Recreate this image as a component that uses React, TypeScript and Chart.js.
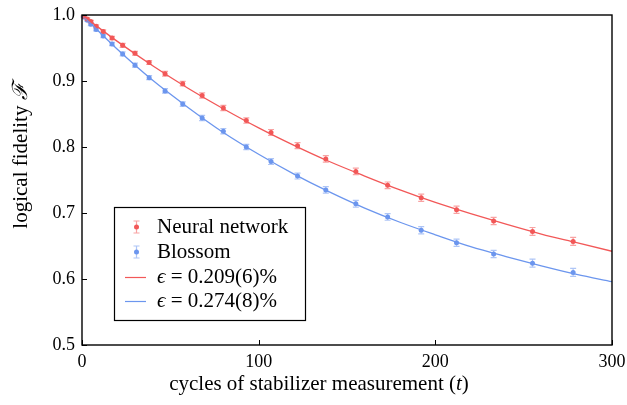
import React, { useEffect, useRef } from 'react';
import { Chart, registerables } from 'chart.js';

Chart.register(...registerables);

// ---- data ----
const cycles = [1, 3, 5, 8, 12, 17, 23, 30, 38, 47, 57, 68, 80, 93, 107, 122, 138, 155, 173, 192, 212, 233, 255, 278];
const neuralFidelity = [0.998, 0.994, 0.990, 0.983, 0.975, 0.965, 0.954, 0.942, 0.928, 0.911, 0.896, 0.878, 0.859, 0.840, 0.822, 0.802, 0.782, 0.763, 0.742, 0.723, 0.705, 0.688, 0.672, 0.657];
const neuralError = [0.001, 0.0015, 0.002, 0.002, 0.0025, 0.0025, 0.003, 0.003, 0.003, 0.0035, 0.0035, 0.004, 0.004, 0.004, 0.0045, 0.0045, 0.005, 0.005, 0.005, 0.0055, 0.0055, 0.0055, 0.006, 0.006];
const blossomFidelity = [0.997, 0.992, 0.986, 0.978, 0.968, 0.956, 0.941, 0.924, 0.905, 0.885, 0.865, 0.844, 0.824, 0.800, 0.778, 0.756, 0.735, 0.714, 0.694, 0.674, 0.655, 0.638, 0.624, 0.610];
const blossomError = [0.001, 0.0015, 0.002, 0.002, 0.0025, 0.0025, 0.003, 0.003, 0.003, 0.0035, 0.0035, 0.004, 0.004, 0.004, 0.0045, 0.0045, 0.005, 0.005, 0.005, 0.0055, 0.0055, 0.0055, 0.006, 0.006];

const fitCycles = [0, 20, 40, 60, 80, 100, 120, 140, 160, 180, 200, 220, 240, 260, 280, 300];
const neuralFit = [1.0, 0.960, 0.923, 0.889, 0.858, 0.829, 0.8025, 0.778, 0.756, 0.735, 0.716, 0.699, 0.683, 0.668, 0.655, 0.642];
const blossomFit = [1.0, 0.948, 0.901, 0.860, 0.822, 0.789, 0.759, 0.732, 0.7075, 0.686, 0.667, 0.649, 0.634, 0.620, 0.607, 0.596];

const xTicks = [0, 100, 200, 300];
const yTicks = [0.5, 0.6, 0.7, 0.8, 0.9, 1.0];

const seriesNames = ['Neural network', 'Blossom'];
const fitRates = ['0.209(6)%', '0.274(8)%'];

const RED = 'rgb(242, 88, 88)';
const RED_LIGHT = 'rgba(242, 88, 88, 0.55)';
const BLUE = 'rgb(108, 150, 238)';
const BLUE_LIGHT = 'rgba(108, 150, 238, 0.55)';
const FONT = '"Liberation Serif", "DejaVu Serif", serif';
const FS_TICK = 18;
const FS = 21;

const errorBarPlugin = {
  id: 'errorBars',
  beforeDatasetsDraw(chart: any) {
    const { ctx } = chart;
    const xs = chart.scales.x;
    const ys = chart.scales.y;
    chart.data.datasets.forEach((ds: any) => {
      if (!ds.errors) return;
      ctx.save();
      ctx.strokeStyle = ds.errorColor;
      ctx.lineWidth = 1.2;
      ds.data.forEach((p: any, j: number) => {
        const x = xs.getPixelForValue(p.x);
        const y1 = ys.getPixelForValue(p.y + ds.errors[j]);
        const y2 = ys.getPixelForValue(p.y - ds.errors[j]);
        ctx.beginPath();
        ctx.moveTo(x, y1);
        ctx.lineTo(x, y2);
        ctx.moveTo(x - 3, y1);
        ctx.lineTo(x + 3, y1);
        ctx.moveTo(x - 3, y2);
        ctx.lineTo(x + 3, y2);
        ctx.stroke();
      });
      ctx.restore();
    });
  },
};

function drawRuns(ctx: any, runs: [string, string][], cx: number, cy: number) {
  let total = 0;
  runs.forEach(([t, f]) => {
    ctx.font = f;
    total += ctx.measureText(t).width;
  });
  let x = cx - total / 2;
  runs.forEach(([t, f]) => {
    ctx.font = f;
    ctx.fillText(t, x, cy);
    x += ctx.measureText(t).width;
  });
}

const decorPlugin = {
  id: 'decor',
  afterDraw(chart: any) {
    const { ctx, chartArea: a } = chart;
    const xs = chart.scales.x;
    const ys = chart.scales.y;
    ctx.save();
    // inward ticks
    ctx.strokeStyle = '#000';
    ctx.lineWidth = 1;
    ctx.beginPath();
    xTicks.forEach((v) => {
      const x = Math.round(xs.getPixelForValue(v)) + 0.5;
      ctx.moveTo(x, a.bottom);
      ctx.lineTo(x, a.bottom - 5);
    });
    yTicks.forEach((v) => {
      const y = Math.round(ys.getPixelForValue(v)) + 0.5;
      ctx.moveTo(a.left, y);
      ctx.lineTo(a.left + 5, y);
    });
    ctx.stroke();
    // frame
    ctx.lineWidth = 1.4;
    ctx.strokeRect(a.left, a.top, a.right - a.left, a.bottom - a.top);

    // axis titles
    ctx.fillStyle = '#000';
    ctx.textBaseline = 'middle';
    ctx.textAlign = 'left';
    const normal = `${FS}px ${FONT}`;
    const italic = `italic ${FS}px ${FONT}`;
    drawRuns(ctx, [['cycles of stabilizer measurement (', normal], ['t', italic], [')', normal]], 319, 384);
    ctx.save();
    ctx.translate(21, 156);
    ctx.rotate(-Math.PI / 2);
    drawRuns(ctx, [['logical fidelity ', normal], ['\u2131', italic]], 0, 0);
    ctx.restore();

    // legend box
    const bx = 114, by = 207, bw = 191, bh = 113;
    ctx.fillStyle = '#fff';
    ctx.fillRect(bx, by, bw, bh);
    ctx.strokeStyle = '#000';
    ctx.lineWidth = 1.2;
    ctx.strokeRect(bx + 0.5, by + 0.5, bw, bh);
    const rows = [227, 252, 277, 301];
    const textX = 157;
    ctx.fillStyle = '#000';
    // error-bar entries
    [[RED, RED_LIGHT], [BLUE, BLUE_LIGHT]].forEach(([c, cl], i) => {
      const y = rows[i];
      const ix = 136.5;
      ctx.strokeStyle = cl;
      ctx.lineWidth = 1.2;
      ctx.beginPath();
      ctx.moveTo(ix, y - 6); ctx.lineTo(ix, y + 6);
      ctx.moveTo(ix - 3, y - 6); ctx.lineTo(ix + 3, y - 6);
      ctx.moveTo(ix - 3, y + 6); ctx.lineTo(ix + 3, y + 6);
      ctx.stroke();
      ctx.fillStyle = c;
      ctx.beginPath();
      ctx.arc(ix, y, 2.5, 0, Math.PI * 2);
      ctx.fill();
      ctx.fillStyle = '#000';
      ctx.font = normal;
      ctx.fillText(seriesNames[i], textX, y);
    });
    // fit entries
    [RED, BLUE].forEach((c, i) => {
      const y = rows[2 + i];
      ctx.strokeStyle = c;
      ctx.lineWidth = 1.2;
      ctx.beginPath();
      ctx.moveTo(125, y + 0.5);
      ctx.lineTo(146, y + 0.5);
      ctx.stroke();
      ctx.fillStyle = '#000';
      let x = textX;
      const parts: [string, string][] = [['\u03f5', italic], [' = ' + fitRates[i], normal]];
      parts.forEach(([t, f]) => {
        ctx.font = f;
        ctx.fillText(t, x, y);
        x += ctx.measureText(t).width;
      });
    });
    ctx.restore();
  },
};

export default function App() {
  const ref = useRef<HTMLCanvasElement>(null);
  useEffect(() => {
    document.body.style.margin = '0';
    const canvas = ref.current;
    if (!canvas) return;
    const chart = new Chart(canvas, {
      type: 'scatter',
      data: {
        datasets: [
          {
            type: 'line',
            label: 'fit neural',
            data: fitCycles.map((t, i) => ({ x: t, y: neuralFit[i] })),
            borderColor: RED,
            borderWidth: 1.3,
            pointRadius: 0,
            showLine: true,
            fill: false,
            cubicInterpolationMode: 'monotone',
          },
          {
            type: 'line',
            label: 'fit blossom',
            data: fitCycles.map((t, i) => ({ x: t, y: blossomFit[i] })),
            borderColor: BLUE,
            borderWidth: 1.3,
            pointRadius: 0,
            showLine: true,
            fill: false,
            cubicInterpolationMode: 'monotone',
          },
          {
            label: seriesNames[0],
            data: cycles.map((t, i) => ({ x: t, y: neuralFidelity[i] })),
            backgroundColor: RED,
            borderColor: RED,
            pointRadius: 2.5,
            pointBorderWidth: 0,
            errors: neuralError,
            errorColor: RED_LIGHT,
          } as any,
          {
            label: seriesNames[1],
            data: cycles.map((t, i) => ({ x: t, y: blossomFidelity[i] })),
            backgroundColor: BLUE,
            borderColor: BLUE,
            pointRadius: 2.5,
            pointBorderWidth: 0,
            errors: blossomError,
            errorColor: BLUE_LIGHT,
          } as any,
        ],
      },
      options: {
        animation: false,
        responsive: true,
        maintainAspectRatio: false,
        layout: { padding: { top: 15, right: 15, left: 0, bottom: 0 } },
        plugins: { legend: { display: false }, tooltip: { enabled: false } },
        scales: {
          x: {
            type: 'linear',
            min: 0,
            max: 300,
            afterBuildTicks: (s: any) => { s.ticks = xTicks.map((v) => ({ value: v })); },
            afterFit: (s: any) => { s.height = 60; s.paddingLeft = 0; s.paddingRight = 0; },
            grid: { display: false, drawTicks: false },
            border: { display: false },
            ticks: { color: '#000', font: { family: FONT, size: FS_TICK }, padding: 6, maxRotation: 0 },
          },
          y: {
            type: 'linear',
            min: 0.5,
            max: 1.0,
            afterBuildTicks: (s: any) => { s.ticks = yTicks.map((v) => ({ value: v })); },
            afterFit: (s: any) => { s.width = 82; s.paddingTop = 0; s.paddingBottom = 0; },
            grid: { display: false, drawTicks: false },
            border: { display: false },
            ticks: {
              color: '#000',
              font: { family: FONT, size: FS_TICK },
              padding: 7,
              callback: (v: any) => Number(v).toFixed(1),
            },
          },
        },
      },
      plugins: [errorBarPlugin, decorPlugin],
    } as any);
    return () => chart.destroy();
  }, []);
  return (
    <div style={{ position: 'relative', width: 627, height: 405, background: '#fff' }}>
      <canvas ref={ref} />
    </div>
  );
}
